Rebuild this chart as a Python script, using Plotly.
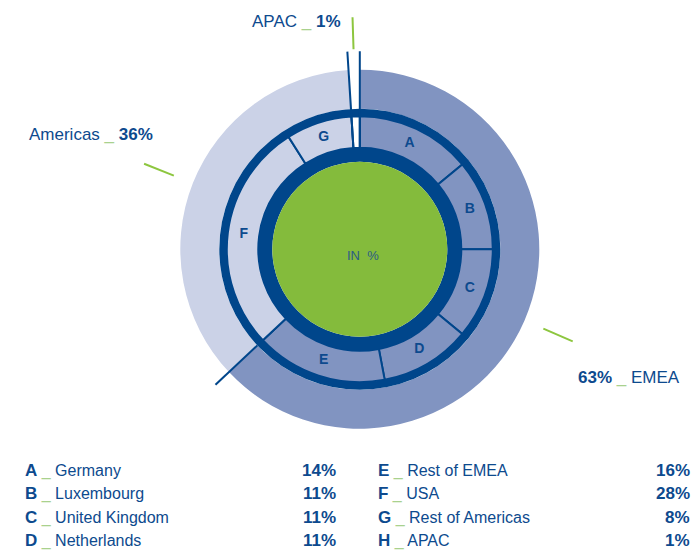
import plotly.graph_objects as go

# ---------------- data ----------------
regions = ["EMEA", "Americas", "APAC"]
region_values = [63, 36, 1]

letters = ["A", "B", "C", "D", "E", "F", "G", "H"]
countries = ["Germany", "Luxembourg", "United Kingdom", "Netherlands",
             "Rest of EMEA", "USA", "Rest of Americas", "APAC"]
country_values = [14, 11, 11, 11, 16, 28, 8, 1]
country_region = ["EMEA"] * 5 + ["Americas"] * 2 + ["APAC"]
segment_letters = ["A", "B", "C", "D", "E", "F", "G", ""]

# ---------------- styles ----------------
DARK = "#00468b"
TEXT = "#0d4a8e"
GREEN = "#84bb3c"
LEADER = "#8dc63f"
DASH = "#a9d18e"
region_colors = {"EMEA": "#8194c1", "Americas": "#cbd2e7", "APAC": "#ffffff"}
FONT = "Liberation Sans, Arial, sans-serif"

W, H = 695, 550
CX, CY = 359.8, 249.2      # centre of the rings in pixels
RMAX = 240                 # radial range in px units

def angles(vals):
    total = sum(vals)
    centers, widths, starts = [], [], []
    cum = 0
    for v in vals:
        w = v / total * 360.0
        starts.append(cum)
        centers.append(cum + w / 2)
        widths.append(w)
        cum += w
    return centers, widths, starts

r_center, r_width, r_start = angles(region_values)
c_center, c_width, c_start = angles(country_values)

fig = go.Figure()

# outer region ring
fig.add_trace(go.Barpolar(
    theta=r_center, width=r_width, base=[140.5] * 3, r=[39.0] * 3,
    marker=dict(color=[region_colors[g] for g in regions], line=dict(width=0)),
    hoverinfo="skip", showlegend=False))

# inner country segments
fig.add_trace(go.Barpolar(
    theta=c_center, width=c_width, base=[101.5] * len(c_center), r=[31.5] * len(c_center),
    marker=dict(color=[region_colors[g] for g in country_region],
                line=dict(color=DARK, width=2)),
    hoverinfo="skip", showlegend=False))

# dark rings and green centre
fig.add_trace(go.Barpolar(
    theta=[0, 0], width=[360, 360], base=[87.5, 133.0], r=[14.0, 7.5],
    marker=dict(color=DARK, line=dict(width=0)),
    hoverinfo="skip", showlegend=False))
fig.add_trace(go.Barpolar(
    theta=[0], width=[360], base=[0], r=[87.5],
    marker=dict(color=GREEN, line=dict(width=0)),
    hoverinfo="skip", showlegend=False))

# boundary lines extending beyond the ring
apac_i = regions.index("APAC")
amer_i = regions.index("Americas")
boundaries = [
    (r_start[apac_i], 101.5),
    (r_start[apac_i] + r_width[apac_i], 101.5),
    (r_start[amer_i], 140.5),
]
for th, r0 in boundaries:
    fig.add_trace(go.Scatterpolar(
        theta=[th, th], r=[r0, 198], mode="lines",
        line=dict(color=DARK, width=2), hoverinfo="skip", showlegend=False))

# leader ticks at region centres
for th in r_center:
    fig.add_trace(go.Scatterpolar(
        theta=[th, th], r=[200, 232], mode="lines",
        line=dict(color=LEADER, width=2), hoverinfo="skip", showlegend=False))

# segment letters
fig.add_trace(go.Scatterpolar(
    theta=c_center, r=[117] * len(c_center), mode="text",
    text=[f"<b>{s}</b>" if s else "" for s in segment_letters],
    textfont=dict(family=FONT, size=14, color=TEXT),
    hoverinfo="skip", showlegend=False))

# ---------------- annotations ----------------
def px(x):
    return x / W

def py(y):
    return 1 - y / H

dash = f"<span style='color:{DASH}'>_</span>"
label_font = dict(family=FONT, size=17, color=TEXT)
ann = []
ann.append(dict(x=px(343), y=py(21.5), xanchor="right", yanchor="middle", font=label_font,
                text=f"{regions[2]} {dash} <b>{region_values[2]}%</b>"))
ann.append(dict(x=px(27), y=py(134.5), xanchor="left", yanchor="middle", font=label_font,
                text=f"{regions[1]} {dash} <b>{region_values[1]}%</b>"))
ann.append(dict(x=px(576), y=py(377.5), xanchor="left", yanchor="middle", font=label_font,
                text=f"<b>{region_values[0]}%</b> {dash} {regions[0]}"))
ann.append(dict(x=px(363), y=py(255), xanchor="center", yanchor="middle",
                text="IN  %", font=dict(family=FONT, size=13, color="#2a5d86")))

row_y = [470, 493.5, 517, 540.5]
col_left = [23, 376]
col_right = [338, 692]
for i, (let, name, val) in enumerate(zip(letters, countries, country_values)):
    col, row = divmod(i, 4)
    ann.append(dict(x=px(col_left[col]), y=py(row_y[row]), xanchor="left", yanchor="middle",
                    text=f"<span style='font-size:17px'><b>{let}</b></span> {dash} {name}"))
    ann.append(dict(x=px(col_right[col]), y=py(row_y[row]), xanchor="right", yanchor="middle",
                    font=dict(family=FONT, size=17, color=TEXT),
                    text=f"<b>{val}%</b>"))

for a in ann:
    a.setdefault("font", dict(family=FONT, size=16, color=TEXT))
    a.update(xref="paper", yref="paper", showarrow=False)

fig.update_layout(
    width=W, height=H,
    margin=dict(l=0, r=0, t=0, b=0),
    paper_bgcolor="white", plot_bgcolor="white",
    showlegend=False,
    annotations=ann,
    polar=dict(
        domain=dict(x=[(CX - RMAX) / W, (CX + RMAX) / W],
                    y=[(H - CY - RMAX) / H, (H - CY + RMAX) / H]),
        bgcolor="rgba(0,0,0,0)",
        barmode="overlay",
        angularaxis=dict(rotation=90, direction="clockwise", visible=False),
        radialaxis=dict(range=[0, RMAX], visible=False),
    ),
)

fig.write_html(
    "out.html",
    config={"displayModeBar": False},
    post_script="document.body.style.margin='0';document.body.style.overflow='hidden';",
)
